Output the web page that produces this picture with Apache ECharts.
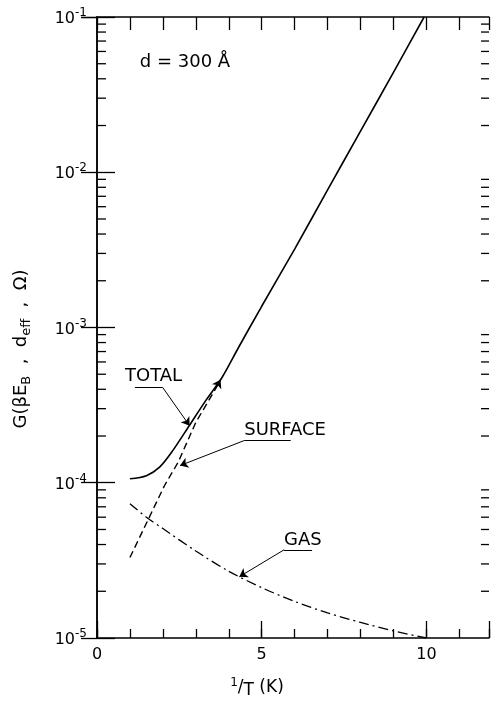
<!DOCTYPE html>
<html><head><meta charset="utf-8">
<script src="https://cdn.jsdelivr.net/npm/echarts@6/dist/echarts.min.js"></script>
<style>html,body{margin:0;padding:0;background:#fff}#c{width:492px;height:702px}</style>
</head><body><div id="c"></div>
<script>
// ---- data ----
const totalX = [1.0, 1.5, 1.9, 2.3, 2.8, 3.3, 3.8, 4.3, 5.0, 6.0, 7.0, 8.0, 9.0, 9.93];
const totalY = [1.06e-4, 1.11e-4, 1.26e-4, 1.61e-4, 2.33e-4, 3.38e-4, 4.78e-4, 7.46e-4, 1.37e-3, 3.2e-3, 7.7e-3, 1.84e-2, 4.4e-2, 1.0e-1];
const surfaceX = [1.0, 2.05, 2.46, 3.0, 3.62, 3.75];
const surfaceY = [3.3e-5, 9.6e-5, 1.35e-4, 2.45e-4, 4.1e-4, 4.6e-4];
const gasX = [1, 1.5, 2, 3, 4, 5, 6, 7, 8, 9, 10];
const gasY = [7.33e-5, 6.0e-5, 5.07e-5, 3.63e-5, 2.69e-5, 2.11e-5, 1.72e-5, 1.45e-5, 1.26e-5, 1.11e-5, 1.0e-5];
const xLabelValues = [0, 5, 10];
const yMinorTickValues = [2e-5,3e-5,4e-5,5e-5,6e-5,7e-5,8e-5,9e-5,
  2e-4,3e-4,4e-4,5e-4,6e-4,7e-4,8e-4,9e-4,
  2e-3,3e-3,4e-3,5e-3,6e-3,7e-3,8e-3,9e-3,
  2e-2,3e-2,4e-2,5e-2,6e-2,7e-2,8e-2,9e-2];
// annotation anchors (data space)
const labelTotal = {text:'TOTAL', at:[0.85, 4.83e-4], under:[[1.15,4.12e-4],[1.99,4.12e-4]], arrow:[[1.99,4.12e-4],[2.81,2.33e-4]]};
const labelSurface = {text:'SURFACE', at:[4.47, 2.16e-4], under:[[4.47,1.87e-4],[5.88,1.87e-4]], arrow:[[4.47,1.87e-4],[2.52,1.29e-4]]};
const labelGas = {text:'GAS', at:[5.68, 4.23e-5], under:[[5.68,3.7e-5],[6.53,3.7e-5]], arrow:[[5.68,3.7e-5],[4.32,2.48e-5]]};
const labelD = {text:'d = 300 Å', at:[1.3, 0.0513]};
const surfaceEndArrow = [[3.62,4.1e-4],[3.75,4.6e-4]];

const FONT = 'DejaVu Sans';
const zip = (xs, ys) => xs.map((x, i) => [x, ys[i]]);
const chart = echarts.init(document.getElementById('c'), null, {renderer:'canvas'});

const ann = [labelTotal, labelSurface, labelGas];
const markData = [];
ann.forEach(a => {
  markData.push([{coord:a.under[0], symbol:'none'}, {coord:a.under[1], symbol:'none'}]);
  markData.push([{coord:a.arrow[0], symbol:'none'}, {coord:a.arrow[1], symbol:'arrow'}]);
});
markData.push([{coord:surfaceEndArrow[0], symbol:'none'}, {coord:surfaceEndArrow[1], symbol:'arrow'}]);

const axisLineStyle = {color:'#000', width:1.5};
chart.setOption({
  animation:false,
  backgroundColor:'#fff',
  grid:{left:97, top:17, width:394, height:621, containLabel:false},
  xAxis:[
    {type:'value', position:'bottom', min:0, max:11.9, interval:1,
     axisLine:{show:true, lineStyle:axisLineStyle},
     axisTick:{show:true, inside:true, length:9, lineStyle:{color:'#000', width:1.3}},
     splitLine:{show:false},
     axisLabel:{margin:9, fontFamily:FONT, fontSize:16, color:'#000',
       formatter:v => xLabelValues.indexOf(v) >= 0 ? String(v) : ''}},
    {type:'value', position:'bottom', min:0, max:11.9, interval:5,
     axisLine:{show:false}, axisLabel:{show:false}, splitLine:{show:false},
     axisTick:{show:true, inside:true, length:17, lineStyle:{color:'#000', width:1.3}}},
    {type:'value', position:'top', min:0, max:11.9, interval:1,
     axisLine:{show:true, lineStyle:axisLineStyle}, axisLabel:{show:false}, splitLine:{show:false},
     axisTick:{show:true, inside:true, length:13, lineStyle:{color:'#000', width:1.3}}}
  ],
  yAxis:[
    {type:'log', logBase:10, min:1e-5, max:1e-1, position:'left',
     axisLine:{show:true, lineStyle:axisLineStyle},
     axisTick:{show:true, inside:true, length:18, lineStyle:{color:'#000', width:1.3}},
     splitLine:{show:false},
     axisLabel:{margin:10, color:'#000',
       formatter:v => '{b|10}{s|' + Math.round(Math.log10(v)) + '}',
       rich:{b:{fontFamily:FONT, fontSize:16, color:'#000', verticalAlign:'bottom'},
             s:{fontFamily:FONT, fontSize:12, color:'#000', verticalAlign:'top', padding:[0,0,8,0]}}}},
    {type:'log', logBase:10, min:1e-5, max:1e-1, position:'right',
     axisLine:{show:true, lineStyle:axisLineStyle},
     axisTick:{show:true, inside:true, length:16, lineStyle:{color:'#000', width:1.3}},
     axisLabel:{show:false}, splitLine:{show:false}}
  ],
  series:[
    {type:'line', name:'TOTAL', data:zip(totalX, totalY), smooth:0.3, showSymbol:false,
     lineStyle:{color:'#000', width:1.6, type:'solid'}},
    {type:'line', name:'SURFACE', data:zip(surfaceX, surfaceY), smooth:false, showSymbol:false,
     lineStyle:{color:'#000', width:1.4, type:[7,4]}},
    {type:'line', name:'GAS', data:zip(gasX, gasY), smooth:0.3, showSymbol:false,
     lineStyle:{color:'#000', width:1.3, type:[10,4,2,4]}},
    {type:'line', name:'annotations', data:[], silent:true,
     markLine:{silent:true, animation:false, symbolSize:8, label:{show:false},
       lineStyle:{color:'#000', width:1, type:'solid'}, emphasis:{disabled:true},
       data:markData}},
    {type:'custom', name:'minorTicks', xAxisIndex:0, yAxisIndex:0, silent:true, clip:false,
     data:yMinorTickValues.map(v => [0, v]),
     renderItem:(params, api) => {
       const p = api.coord([0, api.value(1)]);
       const cs = params.coordSys;
       return {type:'group', children:[
         {type:'line', shape:{x1:cs.x, y1:p[1], x2:cs.x+9, y2:p[1]}, style:{stroke:'#000', lineWidth:1.3}},
         {type:'line', shape:{x1:cs.x+cs.width-8, y1:p[1], x2:cs.x+cs.width, y2:p[1]}, style:{stroke:'#000', lineWidth:1.3}}
       ]};
     }}
  ]
});

const px = c => chart.convertToPixel({xAxisIndex:0, yAxisIndex:0}, c);
const textEl = (a, size) => {
  const p = px(a.at);
  return {type:'text', x:p[0], y:p[1], silent:true,
    style:{text:a.text, fontFamily:FONT, fontSize:size, fill:'#000', align:'left', verticalAlign:'middle'}};
};
chart.setOption({
  graphic:[
    textEl(labelTotal, 18), textEl(labelSurface, 18), textEl(labelGas, 18), textEl(labelD, 18),
    {type:'text', x:23, y:349, rotation:Math.PI/2, silent:true,
     style:{text:'{m|G(βE}{u|B}{m|  ,  d}{u|eff}{m|  ,  Ω)}', align:'center', verticalAlign:'middle',
       rich:{m:{fontFamily:FONT, fontSize:18, fill:'#000', verticalAlign:'top'},
             u:{fontFamily:FONT, fontSize:13, fill:'#000', verticalAlign:'bottom', padding:[8,0,0,0]}}}},
    {type:'text', x:257, y:688, silent:true,
     style:{text:'{sup|1}{m|/}{sub|T}{m| (K)}', align:'center', verticalAlign:'middle',
       rich:{sup:{fontFamily:FONT, fontSize:12, fill:'#000', verticalAlign:'top', padding:[0,0,8,0]},
             m:{fontFamily:FONT, fontSize:17, fill:'#000', verticalAlign:'middle'},
             sub:{fontFamily:FONT, fontSize:17, fill:'#000', verticalAlign:'bottom', padding:[6,0,0,0]}}}}
  ]
});
</script></body></html>
